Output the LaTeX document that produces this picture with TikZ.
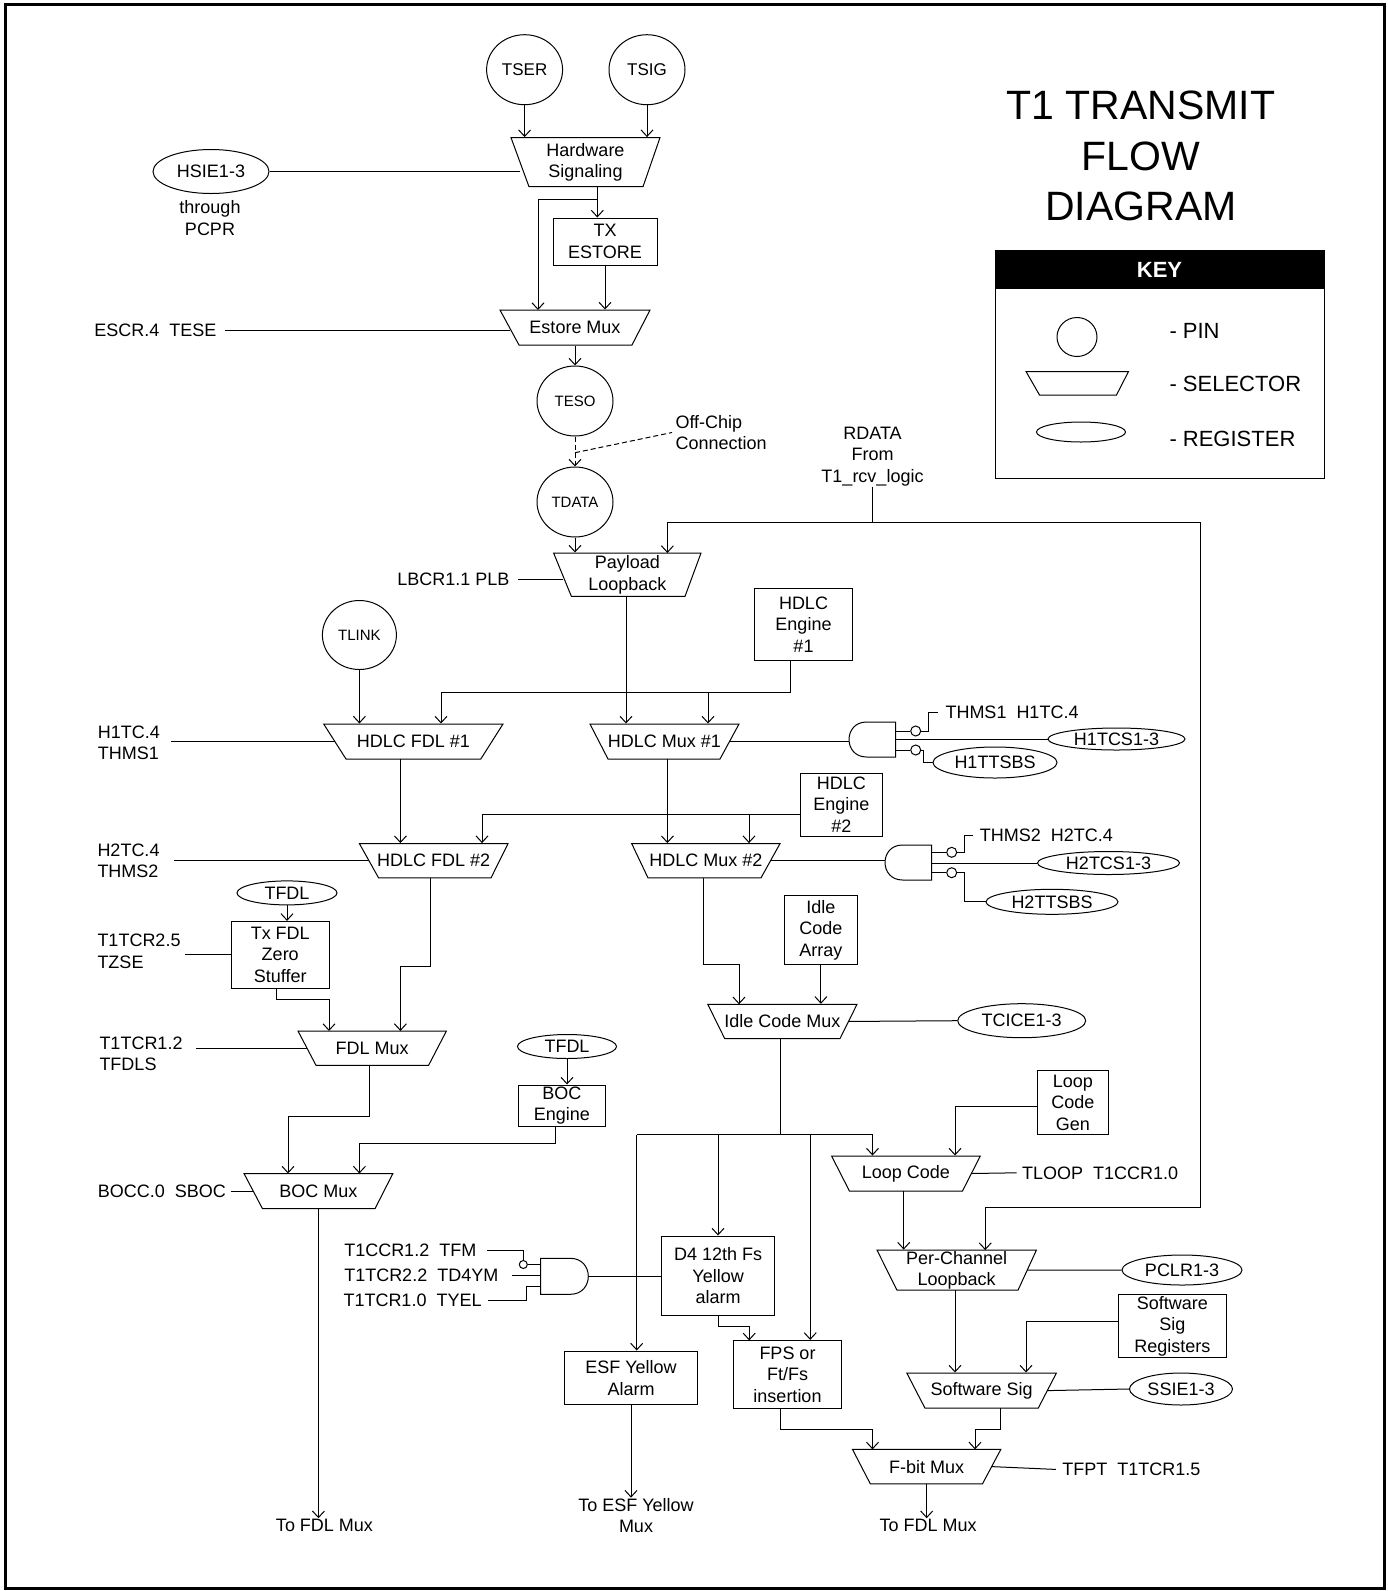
\documentclass[tikz,border=0pt]{standalone}
\usepackage{fontspec}
\setmainfont{Liberation Sans}
\usetikzlibrary{arrows.meta,shapes.geometric}

% selector (trapezoid): name, x top-left, x top-right, x bottom-left, x bottom-right, y top, y bottom, label
\newcommand\muxsel[8]{%
  \draw (#2,#6) -- (#3,#6) -- (#5,#7) -- (#4,#7) -- cycle;
  \node[align=center, minimum width={(#3-#2)*1pt}, minimum height={(#7-#6)*1pt}] (#1) at ({(#2+#3)/2},{(#6+#7)/2}) {#8};
  \coordinate (#1-w) at ({(#2+#4)/2},{(#6+#7)/2});
  \coordinate (#1-e) at ({(#3+#5)/2},{(#6+#7)/2});
}

\begin{document}
\begin{tikzpicture}[x=1pt,y=-1pt,line width=1pt,
  every node/.style={font=\fontsize{18}{21.5}\selectfont, inner sep=0pt},
  arr/.style={-{Straight Barb[length=6.5pt,width=12pt]}},
  pin/.style={ellipse, draw, minimum width=76pt, minimum height=70pt},
  smallpin/.style={pin, font=\fontsize{15}{18}\selectfont},
  reg/.style={ellipse, draw},
  blk/.style={rectangle, draw, align=center},
  txt/.style={align=center},
  ltxt/.style={align=left, anchor=west},
  bub/.style={circle, draw, minimum size=10pt},
  offc/.style={dash pattern=on 5pt off 3pt}
]
\useasboundingbox (0,0) rectangle (1388,1591);
\draw[line width=3pt] (5,4) rectangle (1384.5,1588);

% ---------------- title and key ----------------
\node[txt, font=\fontsize{41}{50.5}\selectfont] (title) at (1141,156) {T1 TRANSMIT\\FLOW\\DIAGRAM};
\node[draw, minimum width=329pt, minimum height=228pt] (keyb) at (1159.5,364) {};
\node[fill=black, text=white, font=\bfseries\fontsize{22}{26}\selectfont, minimum width=329pt, minimum height=39pt] (keyh) at (1159.5,269.5) {KEY};
\node[ellipse, draw, minimum width=40pt, minimum height=39pt] (kpin) at (1077,337) {};
\draw (1026,371.5) -- (1128.5,371.5) -- (1116.5,395) -- (1039.5,395) -- cycle;
\node[reg, minimum width=89pt, minimum height=20pt] (kreg) at (1081,432) {};
\node[anchor=west, font=\fontsize{22}{26}\selectfont] (kpint) at (1169,331) {- PIN};
\node[anchor=west, font=\fontsize{22}{26}\selectfont] (kselt) at (1169,384) {- SELECTOR};
\node[anchor=west, font=\fontsize{22}{26}\selectfont] (kregt) at (1169,439) {- REGISTER};

% ---------------- top section ----------------
\node[pin, font=\fontsize{17}{20}\selectfont] (tser) at (524.6,69.7) {TSER};
\node[pin, font=\fontsize{17}{20}\selectfont] (tsig) at (647,69.7) {TSIG};
\muxsel{hw}{511}{660}{529}{643}{137.6}{186.7}{Hardware\\Signaling}
\node[reg, minimum width=116pt, minimum height=44pt] (hsie) at (211,171.5) {HSIE1-3};
\node[txt] (thru) at (210,218) {through\\PCPR};
\node[blk, minimum width=104pt, minimum height=47pt] (txe) at (605,241.5) {TX\\ESTORE};
\muxsel{est}{500}{650}{519}{632}{310}{345}{Estore Mux}
\node[anchor=west] (escr) at (93.75,330) {ESCR.4~~TESE};
\node[smallpin] (teso) at (575,401) {TESO};
\node[smallpin] (tdata) at (575,502) {TDATA};
\node[ltxt] (offchip) at (675,432.5) {Off-Chip\\Connection};
\node[txt] (rdata) at (872.5,456.5) {RDATA\\From\\T1\_rcv\_logic};

\draw[arr] (tser) -- (tser |- hw.north);
\draw[arr] (tsig) -- (tsig |- hw.north);
\draw (hsie.east) -- (hsie.east -| hw-w);
\coordinate (hwo) at (597.3,186.7);
\coordinate (hwb) at (597.3,199.3);
\coordinate (esti) at (538,310);
\draw[arr] (hwo) -- (hwo |- txe.north);
\draw[arr] (hwb) -| (esti);
\draw[arr] (txe.south) -- (txe.south |- est.north);
\draw ([xshift=8pt]escr.east) -- (escr.east -| est-w);
\draw[arr] (est.south) -- (teso.north);
\draw[arr, offc] (teso) -- (tdata);
\coordinate (oc) at (575,452.7);
\draw[offc] (oc) -- ([xshift=-3pt]offchip.west);

% ---------------- payload loopback and RDATA loop ----------------
\muxsel{plb}{553.6}{701}{571.4}{685}{553}{596.4}{Payload\\Loopback}
\node[anchor=east] (lbcr) at (510,579) {LBCR1.1 PLB};
\coordinate (rd) at (872.5,522);
\coordinate (pli) at (667.4,553);
\coordinate (rc1) at (1200.7,522);
\coordinate (rc2) at (1200.7,1207);
\coordinate (pcli) at (985.2,1250.1);
\draw (rdata.south) -- (rd);
\draw[arr] (rd) -| (pli);
\draw[arr] (rd) -- (rc1) -- (rc2) -| (pcli);
\draw[arr] (tdata) -- (tdata |- plb.north);
\draw ([xshift=8pt]lbcr.east) -- (lbcr.east -| plb-w);

% ---------------- HDLC section ----------------
\node[smallpin, minimum width=74pt, minimum height=69pt] (tlink) at (359.4,635) {TLINK};
\node[blk, minimum width=98pt, minimum height=72pt] (he1) at (803.5,624.6) {HDLC\\Engine\\\#1};
\muxsel{fdl1}{323.7}{503}{346}{480.8}{724}{759}{HDLC FDL \#1}
\muxsel{hm1}{590}{739}{608}{720}{724}{759}{HDLC Mux \#1}
\node[ltxt] (h1tc) at (97.3,743) {H1TC.4\\THMS1};
\node[blk, minimum width=82pt, minimum height=63.4pt] (he2) at (841.4,804.7) {HDLC\\Engine\\\#2};
\muxsel{fdl2}{359.4}{508}{378.6}{491}{843.6}{877.9}{HDLC FDL \#2}
\muxsel{hm2}{631.7}{780}{648}{761}{843.6}{877.9}{HDLC Mux \#2}
\node[ltxt] (h2tc) at (97,860.7) {H2TC.4\\THMS2};

\coordinate (plo) at (626,596.4);
\draw[arr] (plo) -- (plo |- hm1.north);
\draw[arr] (tlink) -- (tlink |- fdl1.north);
\coordinate (hb1) at (790.6,692.9);
\coordinate (hb2) at (441,692.9);
\coordinate (hb3) at (708,692.9);
\draw (he1.south -| hb1) -- (hb1) -- (hb2);
\draw[arr] (hb2) -- (hb2 |- fdl1.north);
\draw[arr] (hb3) -- (hb3 |- hm1.north);
\draw ([xshift=11pt]h1tc.east |- fdl1-w) -- (fdl1-w);
\coordinate (f1o) at (400.4,759);
\draw[arr] (f1o) -- (f1o |- fdl2.north);
\coordinate (m1o) at (667.4,759);
\draw[arr] (m1o) -- (m1o |- hm2.north);
\coordinate (hb4) at (482,814.3);
\coordinate (hb5) at (749,814.3);
\draw (he2.west |- hb4) -- (hb4);
\draw[arr] (hb4) -- (hb4 |- fdl2.north);
\draw[arr] (hb5) -- (hb5 |- hm2.north);
\draw ([xshift=14pt]h2tc.east |- fdl2-w) -- (fdl2-w);

% gate 1
\node[minimum width=46.7pt, minimum height=35pt] (g1) at (872.35,739.5) {};
\draw (895.7,722) -- (866.5,722) .. controls (843.2,722) and (843.2,757) .. (866.5,757) -- (895.7,757) -- cycle;
\draw (hm1-e) -- (hm1-e -| g1.west);
\node[bub] (b1) at (915.7,731) {};
\node[bub] (b2) at (915.7,750) {};
\node[anchor=west] (thms1) at (945,712.7) {THMS1~~H1TC.4};
\node[reg, minimum width=137pt, minimum height=22pt] (h1tcs) at (1116.5,739) {H1TCS1-3};
\node[reg, minimum width=124pt, minimum height=31pt] (h1tt) at (995,762.5) {H1TTSBS};
\coordinate (k1) at (928.2,712.7);
\coordinate (k2) at (923.7,762.5);
\draw (g1.east |- b1) -- (b1.west);
\draw (g1.east |- b2) -- (b2.west);
\draw (b1.east) -| (k1) -- ([xshift=-7pt]thms1.west);
\draw (g1.east |- h1tcs.west) -- (h1tcs.west);
\draw (b2.east) -| (k2) -- (h1tt.west);

% gate 2
\node[minimum width=46.7pt, minimum height=35pt] (g2) at (908.35,862.5) {};
\draw (931.7,845) -- (902.5,845) .. controls (879.2,845) and (879.2,880) .. (902.5,880) -- (931.7,880) -- cycle;
\draw (hm2-e) -- (hm2-e -| g2.west);
\node[bub] (b3) at (951.7,852.3) {};
\node[bub] (b4) at (951.7,872.7) {};
\node[anchor=west] (thms2) at (979.4,835) {THMS2~~H2TC.4};
\node[reg, minimum width=142pt, minimum height=23pt] (h2tcs) at (1108.5,863) {H2TCS1-3};
\node[reg, minimum width=132pt, minimum height=25pt] (h2tt) at (1052,901.8) {H2TTSBS};
\coordinate (k3) at (964,835);
\coordinate (k4) at (964,901.8);
\draw (g2.east |- b3) -- (b3.west);
\draw (g2.east |- b4) -- (b4.west);
\draw (b3.east) -| (k3) -- ([xshift=-6pt]thms2.west);
\draw (g2.east |- h2tcs.west) -- (h2tcs.west);
\draw (b4.east) -| (k4) -- (h2tt.west);

% ---------------- FDL / BOC section ----------------
\node[reg, minimum width=100pt, minimum height=24pt] (tfdla) at (287,892.9) {TFDL};
\node[blk, minimum width=98.5pt, minimum height=66.8pt] (tfz) at (280.25,954.8) {Tx FDL\\Zero\\Stuffer};
\node[ltxt] (tzse) at (97,951.4) {T1TCR2.5\\TZSE};
\muxsel{fdlm}{298}{446.4}{316}{428.6}{1031}{1065.3}{FDL Mux}
\node[ltxt] (tfdls) at (99,1054) {T1TCR1.2\\TFDLS};
\node[reg, minimum width=99pt, minimum height=24pt] (tfdlb) at (567,1046.5) {TFDL};
\node[blk, minimum width=87.8pt, minimum height=41pt] (boc) at (561.9,1105.5) {BOC\\Engine};
\muxsel{bocm}{244}{392.9}{262.5}{375}{1173.5}{1208.7}{BOC Mux}
\node[anchor=west] (sboc) at (97.3,1191) {BOCC.0~~SBOC};
\node (tofdla) at (324.5,1525) {To FDL Mux};

\draw[arr] (tfdla) -- (tfdla |- tfz.north);
\draw ([xshift=4pt]tzse.east |- tfz.west) -- (tfz.west);
\coordinate (tzo) at (276.8,988.2);
\coordinate (tzb) at (276.8,999);
\coordinate (fmi1) at (329,1031);
\draw[arr] (tzo) -- (tzb) -| (fmi1);
\coordinate (f2o) at (430.8,877.9);
\coordinate (f2b) at (430.8,966);
\coordinate (fmi2) at (400.4,1031);
\draw[arr] (f2o) -- (f2b) -| (fmi2);
\draw ([xshift=13pt]tfdls.east |- fdlm-w) -- (fdlm-w);
\draw[arr] (tfdlb) -- (tfdlb |- boc.north);
\coordinate (fmo) at (369.6,1065.3);
\coordinate (fmb) at (369.6,1116.2);
\coordinate (bmi1) at (288,1173.5);
\draw[arr] (fmo) -- (fmb) -| (bmi1);
\coordinate (bco) at (555,1126);
\coordinate (bcb) at (555,1143.7);
\coordinate (bmi2) at (359.4,1173.5);
\draw[arr] (bco) -- (bcb) -| (bmi2);
\draw ([xshift=5pt]sboc.east) -- (sboc.east -| bocm-w);
\draw[arr] (bocm.south) -- (bocm.south |- tofdla.north);

% ---------------- idle code section ----------------
\node[blk, minimum width=72.2pt, minimum height=68.3pt] (ica) at (820.9,929.85) {Idle\\Code\\Array};
\muxsel{icm}{707.8}{857}{724.7}{840}{1004.3}{1038.6}{Idle Code Mux}
\node[reg, minimum width=128pt, minimum height=34pt] (tcice) at (1021.7,1020.7) {TCICE1-3};
\coordinate (m2o) at (703.4,877.9);
\coordinate (m2b) at (703.4,964.3);
\coordinate (icmi) at (739,1004.3);
\draw[arr] (m2o) -- (m2b) -| (icmi);
\draw[arr] (ica.south) -- (ica.south |- icm.north);
\draw (icm-e) -- (tcice.west);

% ---------------- bottom right section ----------------
\node[blk, minimum width=71.2pt, minimum height=63.6pt] (lcg) at (1072.9,1102.4) {Loop\\Code\\Gen};
\muxsel{lc}{831.6}{980.3}{849.4}{962.5}{1156}{1191}{Loop Code}
\node[anchor=west] (tloop) at (1021.7,1172.8) {TLOOP~~T1CCR1.0};
\muxsel{pcl}{877}{1036.4}{897}{1018}{1250.1}{1290.2}{Per-Channel\\Loopback}
\node[reg, minimum width=120pt, minimum height=30pt] (pclr) at (1182,1270) {PCLR1-3};
\node[blk, minimum width=108.2pt, minimum height=62.9pt] (ssr) at (1172.4,1325.85) {Software\\Sig\\Registers};
\muxsel{ssig}{906.8}{1056.4}{925}{1038.2}{1373}{1408.2}{Software Sig}
\node[reg, minimum width=103pt, minimum height=32pt] (ssie) at (1181,1389) {SSIE1-3};
\node[blk, minimum width=112.9pt, minimum height=79.8pt] (d4) at (718.15,1275.9) {D4 12th Fs\\Yellow\\alarm};
\node[blk, minimum width=132.6pt, minimum height=53.7pt] (esf) at (631,1377.85) {ESF Yellow\\Alarm};
\node[blk, minimum width=107.8pt, minimum height=67.8pt] (fps) at (787.5,1374.3) {FPS or\\Ft/Fs\\insertion};
\muxsel{fbit}{852.5}{1000.8}{870.3}{982.5}{1449.4}{1483.8}{F-bit Mux}
\node[anchor=west] (tfpt) at (1061.8,1469.4) {TFPT~~T1TCR1.5};
\node (tofdlb) at (928.2,1525) {To FDL Mux};
\node[txt] (toesf) at (636,1515.5) {To ESF Yellow\\Mux};

\coordinate (bus0) at (636.7,1134.9);
\coordinate (bus1) at (718,1134.9);
\coordinate (bus2) at (780.4,1134.9);
\coordinate (bus3) at (810.2,1134.9);
\coordinate (bus4) at (872.5,1134.9);
\draw (icm.south -| bus2) -- (bus2);
\draw (bus0) -- (bus4);
\draw[arr] (bus0) -- (bus0 |- esf.north);
\draw[arr] (bus1) -- (bus1 |- d4.north);
\draw[arr] (bus3) -- (bus3 |- fps.north);
\draw[arr] (bus4) -- (bus4 |- lc.north);
\coordinate (lg) at (955,1106);
\draw[arr] (lcg.west |- lg) -- (lg) -- (lg |- lc.north);
\draw (lc-e) -- ([xshift=-5pt]tloop.west);
\coordinate (lco) at (903.7,1191);
\draw[arr] (lco) -- (lco |- pcl.north);
\draw (pcl-e) -- (pclr.west);
\coordinate (pco) at (955,1290.2);
\draw[arr] (pco) -- (pco |- ssig.north);
\coordinate (sr) at (1026,1321);
\draw[arr] (ssr.west |- sr) -- (sr) -- (sr |- ssig.north);
\draw (ssig-e) -- (ssie.west);
\coordinate (sso) at (1000.8,1408.2);
\coordinate (ssb) at (1000.8,1429);
\coordinate (fbi2) at (975,1449.4);
\draw[arr] (sso) -- (ssb) -| (fbi2);
\coordinate (fpo) at (780.4,1408.2);
\coordinate (fpb) at (780.4,1429);
\coordinate (fbi1) at (872.5,1449.4);
\draw[arr] (fpo) -- (fpb) -| (fbi1);
\coordinate (d4o) at (718,1315.8);
\coordinate (d4b) at (718,1326.4);
\coordinate (fpi) at (749.2,1340.4);
\draw[arr] (d4o) -- (d4b) -| (fpi);
\draw (fbit-e) -- ([xshift=-6pt]tfpt.west);
\draw[arr] (fbit.south) -- (fbit.south |- tofdlb.north);
\draw[arr] (esf.south) -- (esf.south |- toesf.north);

% gate 3
\node[minimum width=47.6pt, minimum height=36pt] (g3) at (564.5,1276.3) {};
\draw (540.7,1258.3) -- (570.3,1258.3) .. controls (594.3,1258.3) and (594.3,1294.3) .. (570.3,1294.3) -- (540.7,1294.3) -- cycle;
\node[anchor=west] (tfm) at (343.75,1250) {T1CCR1.2~~TFM};
\node[anchor=west] (td4ym) at (343.75,1275.4) {T1TCR2.2~~TD4YM};
\node[anchor=west] (tyel) at (343,1300.7) {T1TCR1.0~~TYEL};
\node[circle, draw, minimum size=8pt] (b5) at (523.3,1264.5) {};
\draw ([xshift=10pt]tfm.east) -| (b5.north);
\draw (b5.east) -- (b5.east -| g3.west);
\draw ([xshift=13pt]td4ym.east) -- (td4ym.east -| g3.west);
\coordinate (k5) at (526,1286.7);
\draw ([xshift=6pt]tyel.east) -| (k5) -- (k5 -| g3.west);
\draw (g3.east) -- (g3.east -| d4.west);
\end{tikzpicture}
\end{document}
